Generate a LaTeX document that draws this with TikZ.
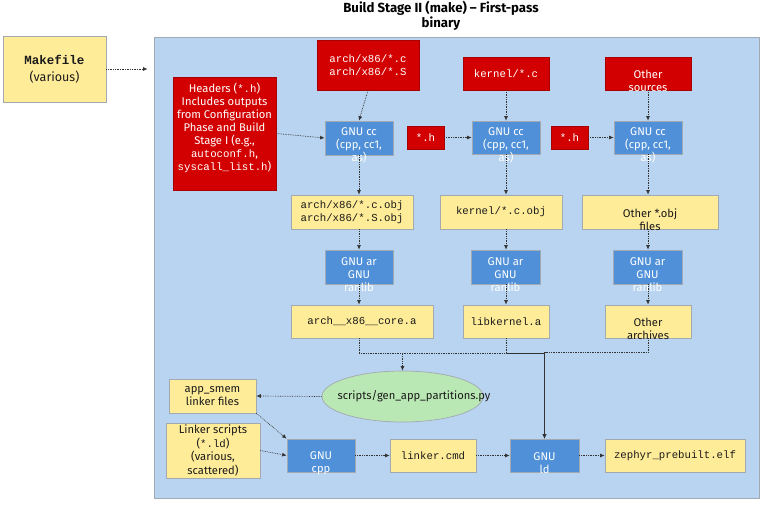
\documentclass[tikz,border=0pt]{standalone}
\usepackage{fontspec}
\setmainfont{Fira Sans}
\newfontfamily\monof{Liberation Mono}
\usetikzlibrary{arrows.meta,shapes.geometric}
\definecolor{yel}{HTML}{FFEC99}
\definecolor{stagec}{HTML}{B9D4F0}
\definecolor{bluec}{HTML}{5090D8}
\definecolor{redc}{HTML}{D20000}
\definecolor{greenc}{HTML}{BAE8B4}
\definecolor{bordc}{HTML}{A3A9B0}
\definecolor{linec}{HTML}{333333}
\definecolor{txtc}{HTML}{1A1A1A}
\newcommand\dgsans{\fontsize{11.2}{13}\selectfont}
\newcommand\dgmono{\monof\fontsize{10.7}{13}\selectfont}
\begin{document}
\begin{tikzpicture}[x=1pt,y=-1pt,
  base/.style={draw=bordc, line width=0.7pt, inner sep=0pt, align=center, font=\dgsans},
  ybox/.style={base, fill=yel, text=txtc},
  rbox/.style={base, fill=redc, draw=redc!80!black, text=white},
  bbox/.style={base, fill=bluec, text=white},
  stagebox/.style={draw=bordc, line width=0.8pt, fill=stagec},
  wlbl/.style={text=white, font=\dgsans, align=center, inner sep=0pt},
  dlbl/.style={text=txtc, font=\dgsans, align=center, inner sep=0pt},
  conn/.style={draw=linec, densely dotted, line width=0.7pt, -{Latex[length=4.5pt,width=4pt]}},
]
\useasboundingbox (0,0) rectangle (765,505);
\fill[white] (0,0) rectangle (765,505);

% title
\node[font=\bfseries\fontsize{13.2}{14.5}\selectfont, align=center, text=black] (title) at (441,16) {Build Stage II (make) -- First-pass\\binary};

% makefile and stage container
\node[ybox, minimum width=103, minimum height=66, font=\fontsize{12.5}{17}\selectfont] (makefile) at (54.5,69) {{\monof\bfseries Makefile}\\(various)};
\node[stagebox, minimum width=605, minimum height=461] (stage) at (456.5,267.5) {};

% sources
\node[rbox, minimum width=102, minimum height=50, font=\dgmono] (asrc) at (368,65) {arch/x86/*.c\\arch/x86/*.S};
\node[rbox, minimum width=103, minimum height=113, text=white] (hdr) at (224.5,133.5) {};
\node[wlbl] (hdrtext) at (224.5,127.5) {Headers ({\monof\fontsize{10.7}{13}\selectfont *.h})\\Includes outputs\\from Configuration\\Phase and Build\\Stage I (e.g.,\\{\monof\fontsize{10.7}{13}\selectfont autoconf.h},\\{\monof\fontsize{10.7}{13}\selectfont syscall\_list.h})};
\node[rbox, minimum width=86, minimum height=33, font=\dgmono] (ksrc) at (506,73.5) {kernel/*.c};
\node[rbox, minimum width=86, minimum height=33, label={[wlbl, yshift=-7.5pt]center:{Other\\sources}}] (osrc) at (648,73.5) {};
\node[rbox, minimum width=37, minimum height=23, font=\dgmono] (h1) at (425.5,137.5) {*.h};
\node[rbox, minimum width=37, minimum height=23, font=\dgmono] (h2) at (569.5,137.5) {*.h};

% compilers
\node[bbox, minimum width=68, minimum height=34, label={[wlbl, yshift=-7.5pt]center:{GNU cc\\(cpp, cc1,\\as)}}] (cc1) at (359,138) {};
\node[bbox, minimum width=68, minimum height=33, label={[wlbl, yshift=-7.5pt]center:{GNU cc\\(cpp, cc1,\\as)}}] (cc2) at (506,137.5) {};
\node[bbox, minimum width=68, minimum height=33, label={[wlbl, yshift=-7.5pt]center:{GNU cc\\(cpp, cc1,\\as)}}] (cc3) at (648,137.5) {};

% object files
\node[ybox, minimum width=122, minimum height=34, font=\dgmono] (aobj) at (352,212) {arch/x86/*.c.obj\\arch/x86/*.S.obj};
\node[ybox, minimum width=122, minimum height=34, font=\dgmono] (kobj) at (501,212) {kernel/*.c.obj};
\node[ybox, minimum width=136, minimum height=34, label={[dlbl, yshift=-8pt]center:{Other *.obj\\files}}] (oobj) at (650,212) {};

% archivers
\node[bbox, minimum width=68, minimum height=34, label={[wlbl, yshift=-7.5pt]center:{GNU ar\\GNU\\ranlib}}] (ar1) at (359,267) {};
\node[bbox, minimum width=69, minimum height=34, label={[wlbl, yshift=-7.5pt]center:{GNU ar\\GNU\\ranlib}}] (ar2) at (505.5,267) {};
\node[bbox, minimum width=69, minimum height=34, label={[wlbl, yshift=-7.5pt]center:{GNU ar\\GNU\\ranlib}}] (ar3) at (647.5,267) {};

% archives
\node[ybox, minimum width=142, minimum height=33, font=\dgmono] (acore) at (362,321.5) {arch\_\_x86\_\_core.a};
\node[ybox, minimum width=86, minimum height=33, font=\dgmono] (klib) at (506,321.5) {libkernel.a};
\node[ybox, minimum width=86, minimum height=33, label={[dlbl, yshift=-7.5pt]center:{Other\\archives}}] (oarch) at (648,321.5) {};

% partition script
\node[base, ellipse, fill=greenc, minimum width=161, minimum height=51, label={[dlbl, xshift=11.5pt]center:{scripts/gen\_app\_partitions.py}}] (ell) at (402.5,396.5) {};

% link stage
\node[ybox, minimum width=87, minimum height=34] (smem) at (212.5,396) {app\_smem\\linker files};
\node[ybox, minimum width=94, minimum height=55, font=\fontsize{11.2}{13.5}\selectfont] (lds) at (213,450.5) {Linker scripts\\({\monof\fontsize{10.7}{13}\selectfont *.ld})\\(various,\\scattered)};
\node[bbox, minimum width=68, minimum height=33, label={[wlbl, yshift=-8pt]center:{GNU\\cpp}}] (cpp) at (321,455.5) {};
\node[ybox, minimum width=86, minimum height=33, font=\dgmono] (lcmd) at (433,455.5) {linker.cmd};
\node[bbox, minimum width=69, minimum height=33, label={[wlbl, yshift=-8pt]center:{GNU\\ld}}] (ld) at (544.5,455.5) {};
\node[ybox, minimum width=140, minimum height=33, font=\dgmono] (elf) at (675,455.5) {zephyr\_prebuilt.elf};

% connectors
\draw[conn, shorten >=6pt] (makefile.east) -- (makefile.east -| stage.west);
\draw[conn] (asrc.south) -- (cc1.north);
\draw[conn] (hdr.east) -- (cc1.west);
\draw[conn] (ksrc.south) -- (cc2.north);
\draw[conn] (h1.east) -- (cc2.west);
\draw[conn] (osrc.south) -- (cc3.north);
\draw[conn] (h2.east) -- (cc3.west);

\draw[conn] (cc1.south) -- (cc1.south |- aobj.north);
\draw[conn] (ar1.north |- aobj.south) -- (ar1.north);
\draw[conn] (ar1.south) -- (ar1.south |- acore.north);
\draw[conn] (cc2.south) -- (cc2.south |- kobj.north);
\draw[conn] (cc2.south |- kobj.south) -- (cc2.south |- ar2.north);
\draw[conn] (cc2.south |- ar2.south) -- (klib.north);
\draw[conn] (cc3.south) -- (cc3.south |- oobj.north);
\draw[conn] (cc3.south |- oobj.south) -- (cc3.south |- ar3.north);
\draw[conn] (cc3.south |- ar3.south) -- (oarch.north);

\draw[conn] (ar1.south |- acore.south) -- ++(0,15) -| (ell.north);
\draw[conn] (ar1.south |- acore.south) -- ++(0,15) -| (ld.north);
\draw[conn] (klib.south) -- ++(0,15) -| (ld.north);
\draw[conn] (oarch.south) -- ++(0,14) -| (ld.north);

\draw[conn] (ell.west) -- (smem.east);
\draw[conn] (smem.south east) -- (cpp.north west);
\draw[conn] (lds.east) -- (cpp.west);
\draw[conn] (cpp.east) -- (lcmd.west);
\draw[conn] (lcmd.east) -- (ld.west);
\draw[conn] (ld.east) -- (elf.west);
\end{tikzpicture}
\end{document}
